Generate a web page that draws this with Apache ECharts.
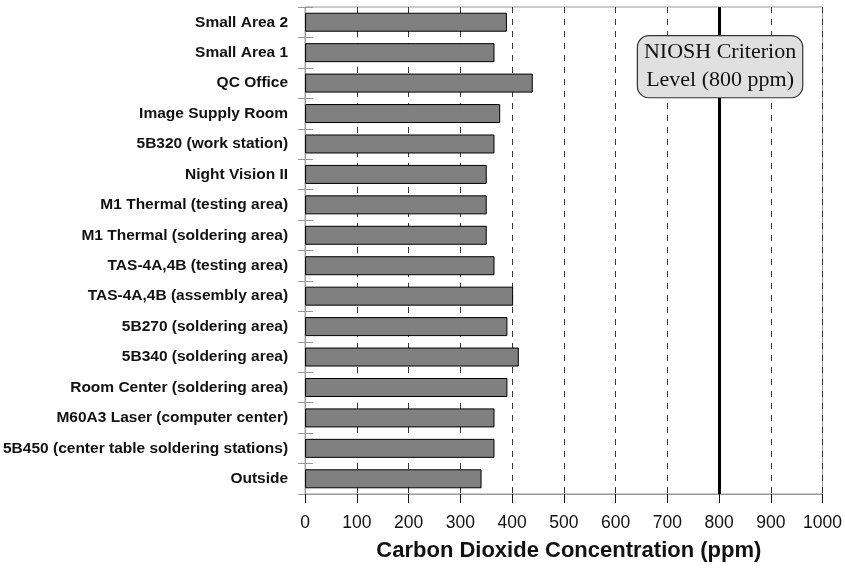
<!DOCTYPE html>
<html><head><meta charset="utf-8">
<script src="https://cdn.jsdelivr.net/npm/echarts@6/dist/echarts.min.js"></script>
<style>html,body{margin:0;padding:0;background:#fff}#c{width:845px;height:569px}</style>
</head><body><div id="c"></div>
<script>
const categories = [
  "Small Area 2","Small Area 1","QC Office","Image Supply Room","5B320 (work station)",
  "Night Vision II","M1 Thermal (testing area)","M1 Thermal (soldering area)",
  "TAS-4A,4B (testing area)","TAS-4A,4B (assembly area)","5B270 (soldering area)",
  "5B340 (soldering area)","Room Center (soldering area)","M60A3 Laser (computer center)",
  "5B450 (center table soldering stations)","Outside"
];
const co2Values = [390, 366, 440, 377, 366, 351, 351, 351, 366, 402, 391, 413, 391, 366, 366, 341];
const criterionValue = 800;
const criterionLabel = ["NIOSH Criterion", "Level (800 ppm)"];
const xTitle = "Carbon Dioxide Concentration (ppm)";

const chart = echarts.init(document.getElementById('c'), null, {renderer: 'canvas'});
chart.setOption({
  animation: false,
  backgroundColor: '#fff',
  grid: {left: 304, right: 19, top: 7, bottom: 75, show: true, borderColor: '#999', borderWidth: 1, backgroundColor: 'transparent'},
  xAxis: {
    type: 'value', min: 0, max: 1000, interval: 100,
    name: xTitle, nameLocation: 'middle', nameGap: 46,
    nameTextStyle: {fontFamily: 'Liberation Sans', fontWeight: 'bold', fontSize: 22, color: '#111', padding: [0, 0, 0, 10]},
    axisLine: {show: true, lineStyle: {color: '#999', width: 1}},
    axisTick: {show: true, inside: false, length: 9, lineStyle: {color: '#111', width: 1}},
    axisLabel: {fontFamily: 'Liberation Sans', fontSize: 17.5, color: '#111', margin: 20, formatter: v => String(v)},
    splitLine: {show: true, lineStyle: {color: '#333', width: 1, type: [6, 6]}}
  },
  yAxis: [{
    type: 'category', data: categories, inverse: true,
    axisLine: {show: true, lineStyle: {color: '#999', width: 1}},
    axisTick: {show: true, inside: false, length: 7, lineStyle: {color: '#999'}},
    axisLabel: {fontFamily: 'Liberation Sans', fontWeight: 'bold', fontSize: 15.5, color: '#111', margin: 17},
    splitLine: {show: false}
  }, {
    type: 'category', data: categories, inverse: true, position: 'left',
    axisLine: {show: false},
    axisTick: {show: true, inside: true, length: 8, lineStyle: {color: '#999'}},
    axisLabel: {show: false},
    splitLine: {show: false}
  }],
  series: [{
    type: 'bar', data: co2Values, yAxisIndex: 0, barWidth: 19,
    itemStyle: {color: '#808080', borderColor: '#000', borderWidth: 1},
    markLine: {
      silent: true, symbol: 'none', animation: false,
      lineStyle: {color: '#000', width: 3, type: 'solid'},
      label: {show: false},
      data: [{xAxis: criterionValue}]
    },
    markPoint: {
      silent: true, symbol: 'rect', symbolSize: 0,
      data: [{coord: [criterionValue, categories[1]]}],
      label: {
        show: true, position: 'inside', offset: [1, 14],
        formatter: criterionLabel.join('\n'),
        fontFamily: 'Liberation Serif', fontSize: 22, lineHeight: 28, color: '#111',
        backgroundColor: '#e0e0e0', borderColor: '#333', borderWidth: 1.2, borderRadius: 11,
        padding: [3, 6, 2, 6]
      }
    }
  }]
});
</script></body></html>
